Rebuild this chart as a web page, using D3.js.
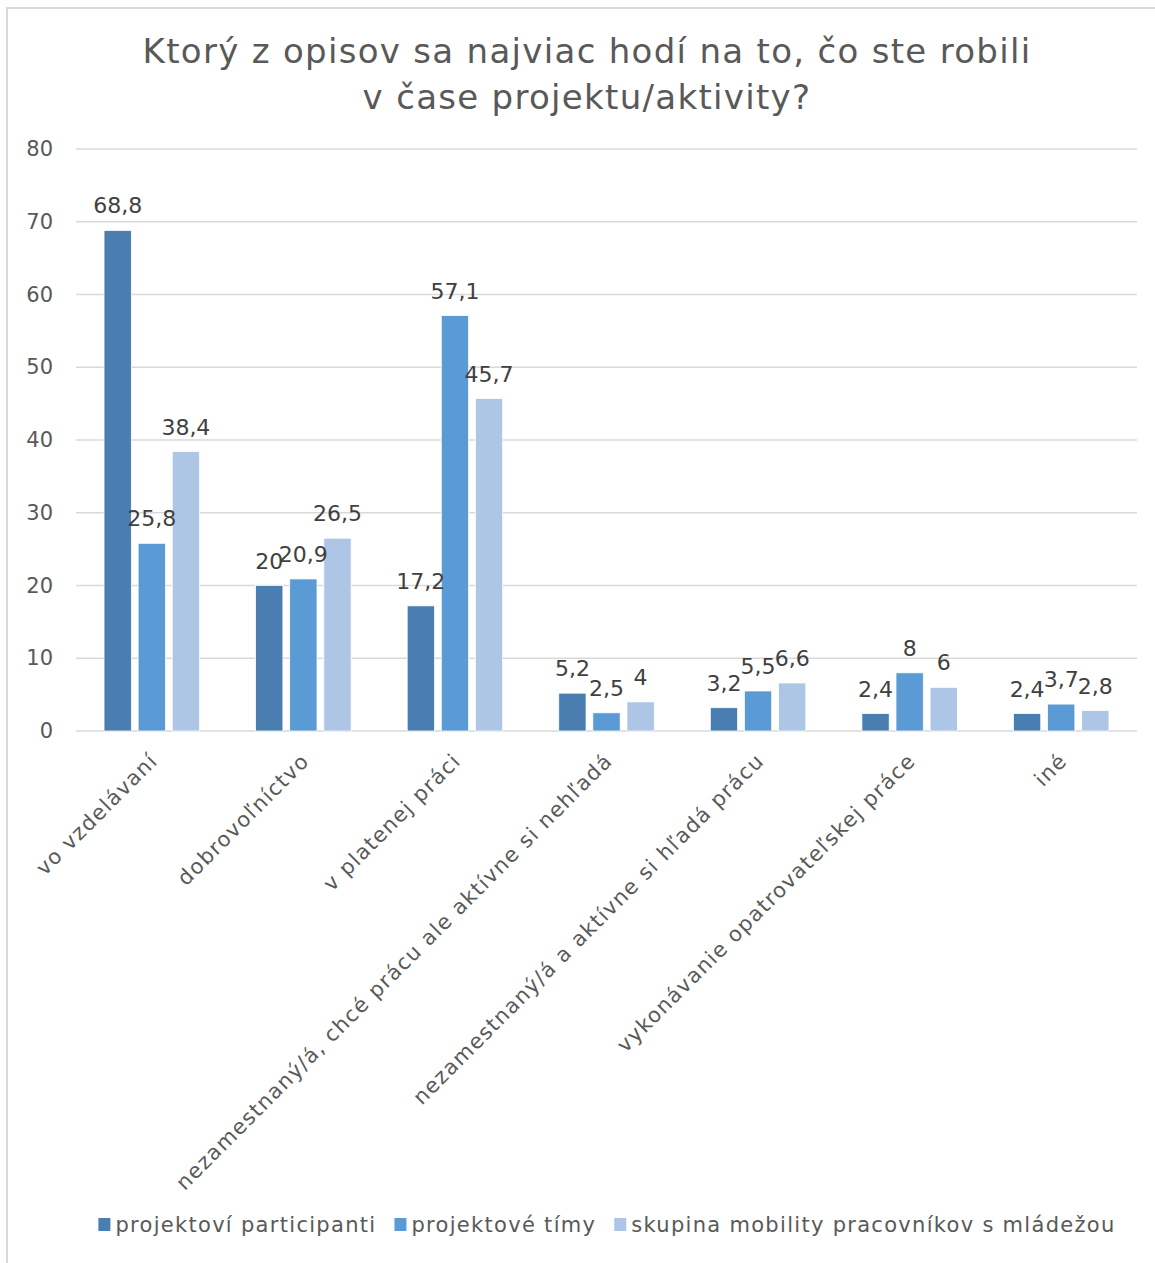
<!DOCTYPE html>
<html>
<head>
<meta charset="utf-8">
<script src="https://cdn.jsdelivr.net/npm/d3@7"></script>
<style>
  body { margin: 0; background: #fff; }
  text { font-family: "DejaVu Sans", sans-serif; }
</style>
</head>
<body>
<div id="chart"></div>
<script>
// data
const categories = [
  "vo vzdelávaní",
  "dobrovoľníctvo",
  "v platenej práci",
  "nezamestnaný/á, chcé prácu ale aktívne si nehľadá",
  "nezamestnaný/á a aktívne si hľadá prácu",
  "vykonávanie opatrovateľskej práce",
  "iné"
];
const seriesNames = ["projektoví participanti", "projektové tímy", "skupina mobility pracovníkov s mládežou"];
const participanti = [68.8, 20, 17.2, 5.2, 3.2, 2.4, 2.4];
const timy = [25.8, 20.9, 57.1, 2.5, 5.5, 8, 3.7];
const mobility = [38.4, 26.5, 45.7, 4, 6.6, 6, 2.8];
const yTicks = [0, 10, 20, 30, 40, 50, 60, 70, 80];
const colors = ["#4a7eb0", "#5b9bd5", "#adc6e6"];

const allSeries = [participanti, timy, mobility];

const W = 1155, H = 1263;
const plot = { left: 76, right: 1137, top: 149, bottom: 731 };

const svg = d3.select("#chart").append("svg")
  .attr("width", W)
  .attr("height", H);

// chart border
svg.append("rect")
  .attr("x", 7).attr("y", 8)
  .attr("width", W + 10).attr("height", H + 10)
  .attr("fill", "#fff")
  .attr("stroke", "#d9d9d9")
  .attr("stroke-width", 2);

// title
const titleLines = ["Ktorý z opisov sa najviac hodí na to, čo ste robili", "v čase projektu/aktivity?"];
svg.append("g")
  .selectAll("text")
  .data(titleLines)
  .enter()
  .append("text")
  .attr("x", 587)
  .attr("y", (d, i) => 63 + i * 46)
  .attr("text-anchor", "middle")
  .attr("fill", "#595959")
  .style("font-size", "34px")
  .style("letter-spacing", "1.3px")
  .text((d) => d);

const x0 = d3.scaleBand()
  .domain(categories)
  .range([plot.left, plot.right])
  .paddingInner(0.37)
  .paddingOuter(0.185);

const x1 = d3.scaleBand()
  .domain(d3.range(3))
  .range([0, x0.bandwidth()])
  .paddingInner(0.2);

const y = d3.scaleLinear()
  .domain([0, 80])
  .range([plot.bottom, plot.top]);

// gridlines
svg.append("g")
  .selectAll("line")
  .data(yTicks)
  .enter()
  .append("line")
  .attr("x1", plot.left)
  .attr("x2", plot.right)
  .attr("y1", (d) => y(d))
  .attr("y2", (d) => y(d))
  .attr("stroke", "#d9d9d9")
  .attr("stroke-width", 1.5);

// y axis labels
const yAxis = svg.append("g")
  .attr("transform", `translate(${plot.left - 23},0)`)
  .call(d3.axisLeft(y).tickValues(yTicks).tickSize(0).tickPadding(0));
yAxis.select(".domain").remove();
yAxis.selectAll("text")
  .attr("fill", "#595959")
  .style("font-family", "DejaVu Sans")
  .style("font-size", "21px");

// bars
const groups = svg.append("g")
  .selectAll("g")
  .data(categories)
  .enter()
  .append("g")
  .attr("transform", (d) => `translate(${x0(d)},0)`);

groups.selectAll("rect")
  .data((d, i) => allSeries.map((s, k) => ({ k: k, v: s[i] })))
  .enter()
  .append("rect")
  .attr("x", (d) => x1(d.k))
  .attr("y", (d) => y(d.v))
  .attr("width", x1.bandwidth())
  .attr("height", (d) => y(0) - y(d.v))
  .attr("fill", (d) => colors[d.k])
  .attr("stroke", "#fff")
  .attr("stroke-width", 0.75);

// data labels
groups.selectAll("text")
  .data((d, i) => allSeries.map((s, k) => ({ k: k, v: s[i] })))
  .enter()
  .append("text")
  .attr("x", (d) => x1(d.k) + x1.bandwidth() / 2)
  .attr("y", (d) => y(d.v) - 17)
  .attr("text-anchor", "middle")
  .attr("fill", "#404040")
  .style("font-size", "22px")
  .text((d) => String(d.v).replace(".", ","));

// category labels
svg.append("g")
  .selectAll("text")
  .data(categories)
  .enter()
  .append("text")
  .attr("transform", (d) => `translate(${x0(d) + x0.bandwidth() / 2 + 2},757) rotate(-45)`)
  .attr("text-anchor", "end")
  .attr("dy", "0.35em")
  .attr("fill", "#595959")
  .style("font-size", "21px")
  .style("letter-spacing", "1.3px")
  .text((d) => d);

// legend
const legend = svg.append("g");
const items = legend.selectAll("g")
  .data(seriesNames)
  .enter()
  .append("g");
items.append("rect")
  .attr("width", 12).attr("height", 13)
  .attr("y", 1218)
  .attr("fill", (d, i) => colors[i]);
items.append("text")
  .attr("x", 17)
  .attr("y", 1232)
  .attr("fill", "#595959")
  .style("font-size", "21px")
  .style("letter-spacing", "1.3px")
  .text((d) => d);

let lx = 0;
const gap = 18;
const widths = [];
items.each(function () {
  widths.push(17 + d3.select(this).select("text").node().getComputedTextLength());
});
const total = d3.sum(widths) + gap * (widths.length - 1);
lx = 607 - total / 2;
items.attr("transform", (d, i) => {
  const t = `translate(${lx},0)`;
  lx += widths[i] + gap;
  return t;
});
</script>
</body>
</html>
